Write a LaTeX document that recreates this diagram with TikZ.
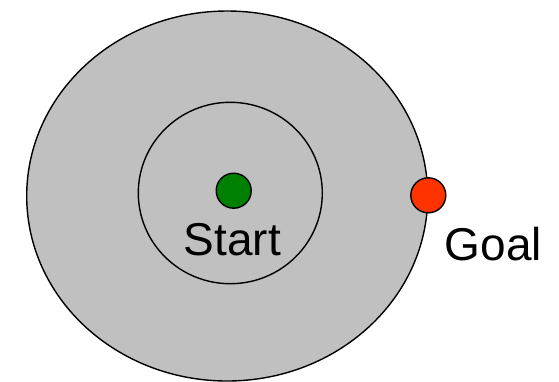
\documentclass[tikz,border=0pt]{standalone}
\usepackage{fontspec}
\setmainfont{Liberation Sans}
\definecolor{regiongray}{HTML}{C0C0C0}
\definecolor{startgreen}{HTML}{008000}
\definecolor{goalred}{HTML}{FF3300}
\begin{document}
\begin{tikzpicture}[x=1bp,y=-1bp,
  ring/.style={draw=black,line width=1.4bp},
  dot/.style={circle,draw=black,line width=1.4bp,minimum size=35bp,inner sep=0pt},
  lbl/.style={anchor=base,inner sep=0pt,font=\fontsize{46bp}{50bp}\selectfont}]
\useasboundingbox (0,0) rectangle (559,381);
\begin{scope}
\clip (0,0) rectangle (559,381);
\draw[ring,fill=regiongray] (227.2,196) ellipse [x radius=200.5, y radius=185];
\end{scope}
\draw[ring] (230.3,193) ellipse [x radius=92, y radius=90.7];
\node[dot,fill=startgreen] (start) at (233.7,190.7) {};
\node[dot,fill=goalred] (goal) at (428.3,195.3) {};
\node[lbl] (startlbl) at (232.4,255) {Start};
\node[lbl] (goallbl) at (493.5,260) {Goal};
\end{tikzpicture}
\end{document}
